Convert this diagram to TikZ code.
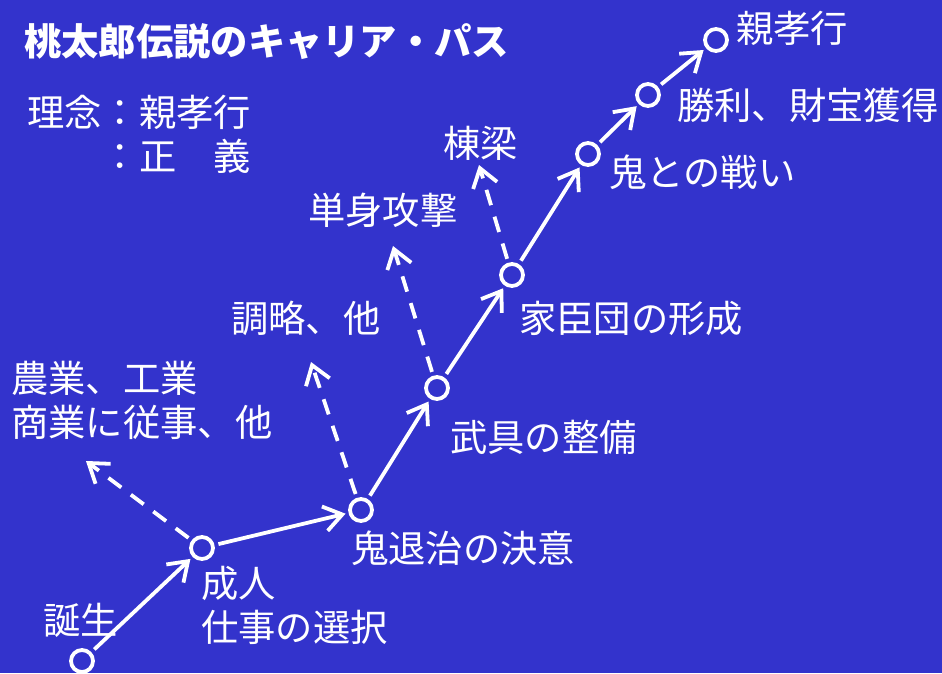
\documentclass[tikz,border=0pt]{standalone}
\usepackage{fontspec}
\newfontfamily\jp{Noto Sans CJK JP}
\usetikzlibrary{arrows.meta}
\definecolor{bgblue}{RGB}{51,51,204}
\tikzset{
  dot/.style={circle,draw=white,line width=3.8pt,minimum size=22pt,inner sep=0pt},
  arr/.style={draw=white,line width=3.8pt,-{Straight Barb[length=18pt,width=25pt]},shorten <=4pt,shorten >=3pt},
  darr/.style={arr,dash pattern=on 16pt off 12pt},
  lbl/.style={text=white,anchor=west,inner sep=0pt,font=\jp\fontsize{37.3}{44}\selectfont,align=left},
}
\begin{document}
\begin{tikzpicture}[x=1pt,y=-1pt]
\fill[bgblue] (0,0) rectangle (942,673);
\useasboundingbox (0,0) rectangle (942,673);
% title and motto
\node[lbl,font=\jp\bfseries\fontsize{37.3}{44}\selectfont] (title) at (24,42) {桃太郎伝説のキャリア・パス};
\node[lbl] (motto) at (27,134) {理念：親孝行\\　　：正　義};
% circles
\node[dot] (birth) at (82,661) {};
\node[dot] (adult) at (202,548) {};
\node[dot] (resolve) at (361,510) {};
\node[dot] (arms) at (437,388) {};
\node[dot] (vassal) at (512,275) {};
\node[dot] (battle) at (588,154) {};
\node[dot] (win) at (648,95) {};
\node[dot] (filial) at (716,40) {};
% dashed ends
\coordinate (farm) at (86,461);
\coordinate (plot) at (311,362);
\coordinate (solo) at (393,246);
\coordinate (leader) at (479,165);
% labels
\node[lbl] (lbirth) at (43,620) {誕生};
\node[lbl] (ladult) at (201,605) {成人\\仕事の選択};
\node[lbl] (lresolve) at (351,548) {鬼退治の決意};
\node[lbl] (larms) at (450,437) {武具の整備};
\node[lbl] (lvassal) at (519,318) {家臣団の形成};
\node[lbl] (lbattle) at (609,172) {鬼との戦い};
\node[lbl] (lwin) at (677,105) {勝利、財宝獲得};
\node[lbl] (lfilial) at (736,28) {親孝行};
\node[lbl] (lfarm) at (11,400) {農業、工業\\商業に従事、他};
\node[lbl] (lplot) at (231,318) {調略、他};
\node[lbl] (lsolo) at (308,210) {単身攻撃};
\node[lbl] (lleader) at (443,143) {棟梁};
% solid arrows
\draw[arr] (birth) -- (adult);
\draw[arr] (adult) -- (resolve);
\draw[arr] (resolve) -- (arms);
\draw[arr] (arms) -- (vassal);
\draw[arr] (vassal) -- (battle);
\draw[arr] (battle) -- (win);
\draw[arr] (win) -- (filial);
% dashed arrows
\draw[darr,shorten >=0pt] (adult) -- (farm);
\draw[darr,shorten >=0pt] (resolve) -- (plot);
\draw[darr,shorten >=0pt] (arms) -- (solo);
\draw[darr,shorten >=0pt] (vassal) -- (leader);
\end{tikzpicture}
\end{document}
